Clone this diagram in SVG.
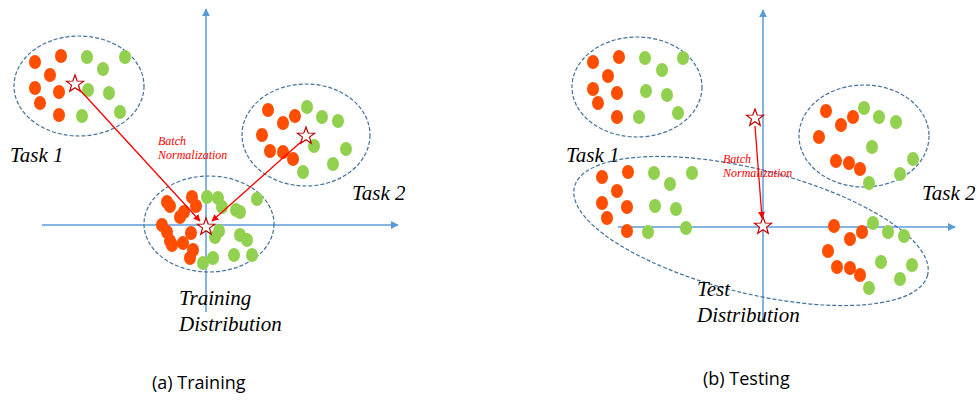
<svg xmlns="http://www.w3.org/2000/svg" xmlns:xlink="http://www.w3.org/1999/xlink" width="979" height="402" viewBox="0 0 979 402">
<style>
.o{fill:#FF4E00}
.g{fill:#92D050}
.axis{stroke:#5B9BD5;stroke-width:1.5;fill:none}
.dist{stroke:#41719C;stroke-width:1.2;fill:none;stroke-dasharray:4 2}
.bn{stroke:#FF0000;stroke-width:1.3;fill:none}
.star{fill:#fff;stroke:#C00000;stroke-width:1.2}
.lbl{font-family:"Liberation Serif","DejaVu Serif","Noto Serif","Times New Roman",serif;font-style:italic;font-size:21px;fill:#000}
.bnt{font-family:"Liberation Serif","DejaVu Serif","Noto Serif","Times New Roman",serif;font-style:italic;font-size:12px;fill:#FF0000}
.cap{font-family:"Open Sans","Liberation Sans",sans-serif;font-size:18px;fill:#000}
</style>
<defs>
<marker id="ah" viewBox="0 0 10 10" refX="9" refY="5" markerWidth="8" markerHeight="8" markerUnits="userSpaceOnUse" orient="auto"><path d="M0,0 L10,5 L0,10 Z" fill="#5B9BD5"/></marker>
<marker id="rh" viewBox="0 0 10 10" refX="9" refY="5" markerWidth="7" markerHeight="7" markerUnits="userSpaceOnUse" orient="auto"><path d="M0,0 L10,5 L0,10 Z" fill="#FF0000"/></marker>
<path id="star" d="M0,-9 L2.17,-2.99 L8.56,-2.78 L3.52,1.14 L5.29,7.28 L0,3.7 L-5.29,7.28 L-3.52,1.14 L-8.56,-2.78 L-2.17,-2.99 Z"/>
</defs>

<g id="axes">
<line class="axis" x1="206" y1="312" x2="206" y2="9" marker-end="url(#ah)"/>
<line class="axis" x1="42" y1="225" x2="398" y2="225" marker-end="url(#ah)"/>
<line class="axis" x1="763" y1="322" x2="763" y2="10" marker-end="url(#ah)"/>
<line class="axis" x1="618" y1="227" x2="955" y2="227" marker-end="url(#ah)"/>
</g>

<g id="a-task1">
<ellipse class="dist" cx="79" cy="86" rx="65" ry="50"/>
<ellipse class="o" cx="35" cy="62" rx="6" ry="7"/>
<ellipse class="o" cx="61" cy="56" rx="6" ry="7"/>
<ellipse class="o" cx="50" cy="75" rx="6" ry="7"/>
<ellipse class="o" cx="35" cy="88" rx="6" ry="7"/>
<ellipse class="o" cx="59" cy="92" rx="6" ry="7"/>
<ellipse class="o" cx="40" cy="103" rx="6" ry="7"/>
<ellipse class="o" cx="59" cy="115" rx="6" ry="7"/>
<ellipse class="g" cx="87" cy="57" rx="6" ry="7"/>
<ellipse class="g" cx="125" cy="57" rx="6" ry="7"/>
<ellipse class="g" cx="103" cy="69" rx="6" ry="7"/>
<ellipse class="g" cx="88" cy="90" rx="6" ry="7"/>
<ellipse class="g" cx="109" cy="93" rx="6" ry="7"/>
<ellipse class="g" cx="82" cy="116" rx="6" ry="7"/>
<ellipse class="g" cx="120" cy="112" rx="6" ry="7"/>
<use href="#star" class="star" x="75" y="84"/>
<text class="lbl" x="10" y="162">Task 1</text>
</g>

<g id="a-task2">
<ellipse class="dist" cx="306" cy="135" rx="64" ry="51"/>
<ellipse class="o" cx="268" cy="110" rx="6" ry="7"/>
<ellipse class="o" cx="295" cy="116" rx="6" ry="7"/>
<ellipse class="o" cx="283" cy="123" rx="6" ry="7"/>
<ellipse class="o" cx="262" cy="135" rx="6" ry="7"/>
<ellipse class="o" cx="270" cy="151" rx="6" ry="7"/>
<ellipse class="o" cx="283" cy="152" rx="6" ry="7"/>
<ellipse class="o" cx="293" cy="159" rx="6" ry="7"/>
<ellipse class="g" cx="307" cy="107" rx="6" ry="7"/>
<ellipse class="g" cx="322" cy="117" rx="6" ry="7"/>
<ellipse class="g" cx="338" cy="121" rx="6" ry="7"/>
<ellipse class="g" cx="314" cy="146" rx="6" ry="7"/>
<ellipse class="g" cx="346" cy="149" rx="6" ry="7"/>
<ellipse class="g" cx="333" cy="164" rx="6" ry="7"/>
<ellipse class="g" cx="303" cy="172" rx="6" ry="7"/>
<use href="#star" class="star" x="306" y="136"/>
<text class="lbl" x="352" y="200">Task 2</text>
</g>

<g id="a-training">
<ellipse class="dist" cx="209" cy="224" rx="65" ry="48"/>
<ellipse class="o" cx="167" cy="202" rx="6" ry="7"/>
<ellipse class="o" cx="170" cy="206" rx="6" ry="7"/>
<ellipse class="o" cx="192" cy="197" rx="6" ry="7"/>
<ellipse class="o" cx="196" cy="206" rx="6" ry="7"/>
<ellipse class="o" cx="180" cy="217" rx="6" ry="7"/>
<ellipse class="o" cx="184" cy="212" rx="6" ry="7"/>
<ellipse class="o" cx="162" cy="225" rx="6" ry="7"/>
<ellipse class="o" cx="167" cy="232" rx="6" ry="7"/>
<ellipse class="o" cx="170" cy="241" rx="6" ry="7"/>
<ellipse class="o" cx="172" cy="245" rx="6" ry="7"/>
<ellipse class="o" cx="183" cy="243" rx="6" ry="7"/>
<ellipse class="o" cx="191" cy="233" rx="6" ry="7"/>
<ellipse class="o" cx="193" cy="250" rx="6" ry="7"/>
<ellipse class="o" cx="190" cy="258" rx="6" ry="7"/>
<ellipse class="g" cx="207" cy="197" rx="6" ry="7"/>
<ellipse class="g" cx="218" cy="198" rx="6" ry="7"/>
<ellipse class="g" cx="222" cy="207" rx="6" ry="7"/>
<ellipse class="g" cx="236" cy="210" rx="6" ry="7"/>
<ellipse class="g" cx="240" cy="212" rx="6" ry="7"/>
<ellipse class="g" cx="257" cy="199" rx="6" ry="7"/>
<ellipse class="g" cx="219" cy="231" rx="6" ry="7"/>
<ellipse class="g" cx="215" cy="237" rx="6" ry="7"/>
<ellipse class="g" cx="240" cy="235" rx="6" ry="7"/>
<ellipse class="g" cx="247" cy="240" rx="6" ry="7"/>
<ellipse class="g" cx="234" cy="255" rx="6" ry="7"/>
<ellipse class="g" cx="252" cy="255" rx="6" ry="7"/>
<ellipse class="g" cx="213" cy="258" rx="6" ry="7"/>
<ellipse class="g" cx="203" cy="263" rx="6" ry="7"/>
<use href="#star" class="star" x="206" y="227"/>
<text class="lbl" x="179" y="305">Training</text>
<text class="lbl" x="179" y="331">Distribution</text>
</g>

<g id="b-task1">
<ellipse class="dist" cx="637" cy="87" rx="65" ry="50"/>
<ellipse class="o" cx="593" cy="62" rx="6" ry="7"/>
<ellipse class="o" cx="619" cy="57" rx="6" ry="7"/>
<ellipse class="o" cx="608" cy="76" rx="6" ry="7"/>
<ellipse class="o" cx="593" cy="89" rx="6" ry="7"/>
<ellipse class="o" cx="617" cy="93" rx="6" ry="7"/>
<ellipse class="o" cx="598" cy="103" rx="6" ry="7"/>
<ellipse class="o" cx="617" cy="117" rx="6" ry="7"/>
<ellipse class="g" cx="645" cy="58" rx="6" ry="7"/>
<ellipse class="g" cx="683" cy="58" rx="6" ry="7"/>
<ellipse class="g" cx="662" cy="70" rx="6" ry="7"/>
<ellipse class="g" cx="646" cy="91" rx="6" ry="7"/>
<ellipse class="g" cx="667" cy="95" rx="6" ry="7"/>
<ellipse class="g" cx="639" cy="117" rx="6" ry="7"/>
<ellipse class="g" cx="678" cy="113" rx="6" ry="7"/>
<text class="lbl" x="566" y="162">Task 1</text>
</g>

<g id="b-task2">
<ellipse class="dist" cx="864" cy="136" rx="65" ry="51"/>
<ellipse class="o" cx="826" cy="111" rx="6" ry="7"/>
<ellipse class="o" cx="853" cy="117" rx="6" ry="7"/>
<ellipse class="o" cx="841" cy="125" rx="6" ry="7"/>
<ellipse class="o" cx="819" cy="137" rx="6" ry="7"/>
<ellipse class="o" cx="836" cy="161" rx="6" ry="7"/>
<ellipse class="o" cx="849" cy="163" rx="6" ry="7"/>
<ellipse class="o" cx="860" cy="169" rx="6" ry="7"/>
<ellipse class="g" cx="864" cy="108" rx="6" ry="7"/>
<ellipse class="g" cx="879" cy="117" rx="6" ry="7"/>
<ellipse class="g" cx="896" cy="122" rx="6" ry="7"/>
<ellipse class="g" cx="872" cy="147" rx="6" ry="7"/>
<ellipse class="g" cx="913" cy="159" rx="6" ry="7"/>
<ellipse class="g" cx="900" cy="174" rx="6" ry="7"/>
<ellipse class="g" cx="869" cy="183" rx="6" ry="7"/>
<text class="lbl" x="922" y="200">Task 2</text>
</g>

<g id="b-test">
<ellipse class="dist" cx="751" cy="231" rx="182" ry="62" transform="rotate(14 751 231)"/>
<ellipse class="o" cx="602" cy="177" rx="6" ry="7"/>
<ellipse class="o" cx="628" cy="172" rx="6" ry="7"/>
<ellipse class="o" cx="617" cy="191" rx="6" ry="7"/>
<ellipse class="o" cx="602" cy="203" rx="6" ry="7"/>
<ellipse class="o" cx="627" cy="207" rx="6" ry="7"/>
<ellipse class="o" cx="607" cy="218" rx="6" ry="7"/>
<ellipse class="o" cx="627" cy="231" rx="6" ry="7"/>
<ellipse class="g" cx="654" cy="173" rx="6" ry="7"/>
<ellipse class="g" cx="692" cy="173" rx="6" ry="7"/>
<ellipse class="g" cx="670" cy="184" rx="6" ry="7"/>
<ellipse class="g" cx="655" cy="206" rx="6" ry="7"/>
<ellipse class="g" cx="676" cy="209" rx="6" ry="7"/>
<ellipse class="g" cx="648" cy="232" rx="6" ry="7"/>
<ellipse class="g" cx="686" cy="228" rx="6" ry="7"/>
<ellipse class="o" cx="834" cy="226" rx="6" ry="7"/>
<ellipse class="o" cx="862" cy="232" rx="6" ry="7"/>
<ellipse class="o" cx="850" cy="239" rx="6" ry="7"/>
<ellipse class="o" cx="828" cy="251" rx="6" ry="7"/>
<ellipse class="o" cx="837" cy="267" rx="6" ry="7"/>
<ellipse class="o" cx="850" cy="268" rx="6" ry="7"/>
<ellipse class="o" cx="860" cy="275" rx="6" ry="7"/>
<ellipse class="g" cx="873" cy="223" rx="6" ry="7"/>
<ellipse class="g" cx="888" cy="232" rx="6" ry="7"/>
<ellipse class="g" cx="904" cy="236" rx="6" ry="7"/>
<ellipse class="g" cx="881" cy="262" rx="6" ry="7"/>
<ellipse class="g" cx="912" cy="265" rx="6" ry="7"/>
<ellipse class="g" cx="900" cy="279" rx="6" ry="7"/>
<ellipse class="g" cx="869" cy="288" rx="6" ry="7"/>
<text class="lbl" x="697" y="296">Test</text>
<text class="lbl" x="697" y="322">Distribution</text>
</g>

<g id="b-stars">
<use href="#star" class="star" x="755" y="118"/>
<use href="#star" class="star" x="763" y="226"/>
</g>

<g id="connectors">
<line class="bn" x1="79" y1="89" x2="200" y2="221" marker-end="url(#rh)"/>
<line class="bn" x1="302" y1="141" x2="212" y2="221" marker-end="url(#rh)"/>
<line class="bn" x1="755" y1="126" x2="762" y2="218" marker-end="url(#rh)"/>
<text class="bnt" x="158" y="145">Batch</text>
<text class="bnt" x="158" y="159">Normalization</text>
<text class="bnt" x="723" y="163">Batch</text>
<text class="bnt" x="723" y="177">Normalization</text>
</g>

<g id="captions">
<text class="cap" x="152" y="389">(a) Training</text>
<text class="cap" x="703" y="385">(b) Testing</text>
</g>
</svg>
